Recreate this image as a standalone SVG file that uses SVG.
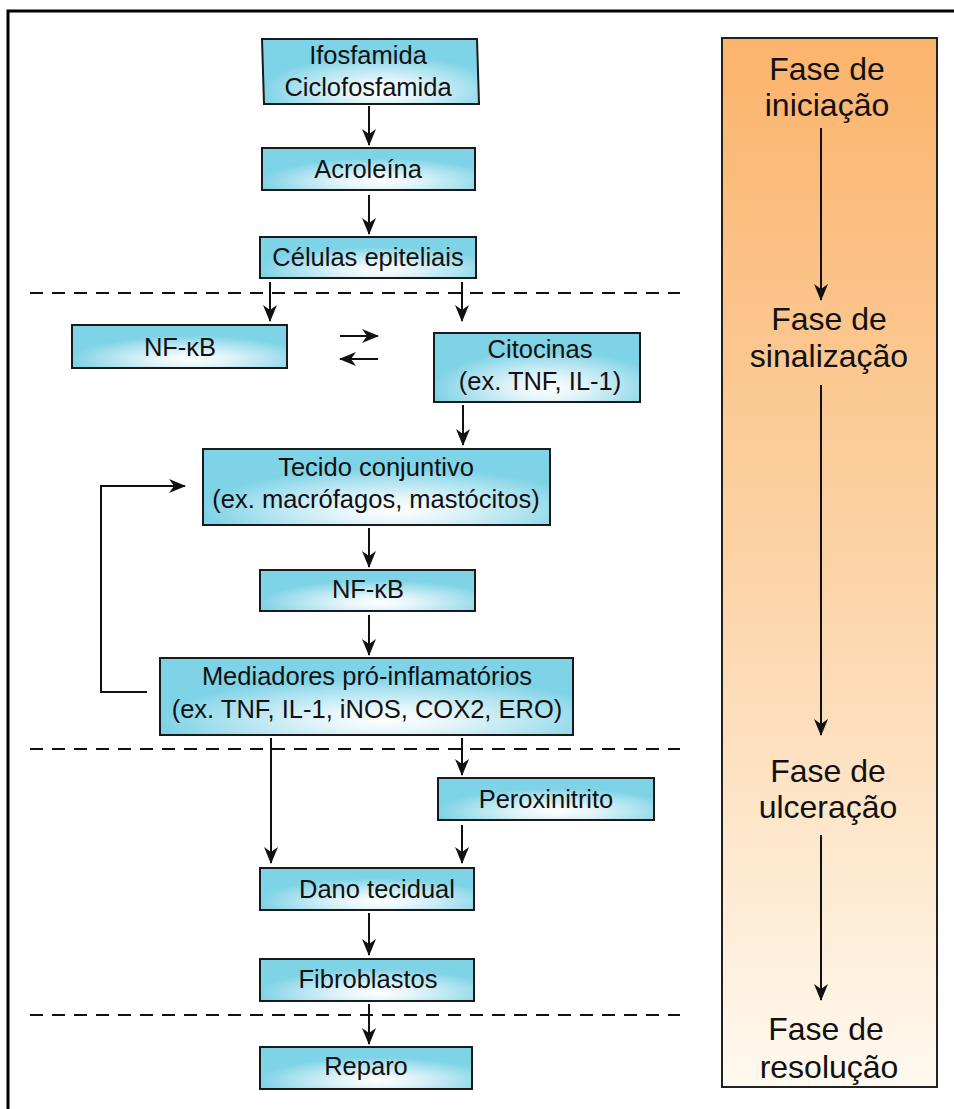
<svg xmlns="http://www.w3.org/2000/svg" width="954" height="1109" viewBox="0 0 954 1109">
<style>
.box{stroke:#1a1a1a;stroke-width:2;fill:url(#cyan)}
.t{font-family:"Liberation Sans",Arial,sans-serif;font-size:25.5px;fill:#111;text-anchor:middle}
.ph{font-family:"Liberation Sans",Arial,sans-serif;font-size:32px;fill:#111;text-anchor:middle}
.c{stroke:#111;stroke-width:2;fill:none;marker-end:url(#ah)}
.d{stroke:#111;stroke-width:2;stroke-dasharray:13 9;fill:none}
</style>
<defs>
<radialGradient id="cyan" cx="0.55" cy="0.8" r="0.55" fx="0.55" fy="0.8">
<stop offset="0" stop-color="#ffffff"/>
<stop offset="0.3" stop-color="#e4f5fa"/>
<stop offset="0.75" stop-color="#a6e0ee"/>
<stop offset="1" stop-color="#7fd3e6"/>
</radialGradient>
<linearGradient id="orange" x1="0" y1="0" x2="0" y2="1">
<stop offset="0" stop-color="#fbb46c"/>
<stop offset="0.5" stop-color="#fcd3a6"/>
<stop offset="1" stop-color="#fff9ef"/>
</linearGradient>
<marker id="ah" viewBox="0 0 17 14" refX="16" refY="7" markerWidth="17" markerHeight="14" markerUnits="userSpaceOnUse" orient="auto">
<path d="M0,0 L17,7 L0,14 L5,7 z" fill="#111"/>
</marker>
</defs>
<rect width="954" height="1109" fill="#fff"/>
<path d="M8,1109 V11 H954" stroke="#000" stroke-width="3" fill="none"/>

<g id="phases">
<rect x="722" y="38" width="215" height="1049" fill="url(#orange)" stroke="#222" stroke-width="2"/>
<text class="ph" x="827" y="80">Fase de</text>
<text class="ph" x="827" y="116">iniciação</text>
<text class="ph" x="829" y="330">Fase de</text>
<text class="ph" x="829" y="367">sinalização</text>
<text class="ph" x="828" y="782">Fase de</text>
<text class="ph" x="828" y="818">ulceração</text>
<text class="ph" x="826" y="1040">Fase de</text>
<text class="ph" x="829" y="1078">resolução</text>
</g>

<g id="dividers">
<line class="d" x1="30" y1="293" x2="680" y2="293"/>
<line class="d" x1="30" y1="749" x2="680" y2="749"/>
<line class="d" x1="30" y1="1015" x2="680" y2="1015"/>
</g>

<g id="n1"><polygon class="box" points="262,39 477,39 479,104 264,104"/>
<text class="t" x="368" y="64">Ifosfamida</text><text class="t" x="368" y="96">Ciclofosfamida</text></g>
<g id="n2"><rect class="box" x="262" y="148" width="213" height="42"/><text class="t" x="368" y="178">Acroleína</text></g>
<g id="n3"><rect class="box" x="260" y="237" width="216" height="41"/><text class="t" x="368" y="266">Células epiteliais</text></g>
<g id="n4"><rect class="box" x="72" y="325" width="215" height="43"/><text class="t" x="180" y="356">NF-κB</text></g>
<g id="n5"><rect class="box" x="434" y="333" width="206" height="69"/><text class="t" x="540" y="358">Citocinas</text><text class="t" x="540" y="390">(ex. TNF, IL-1)</text></g>
<g id="n6"><rect class="box" x="203" y="449" width="347" height="76"/><text class="t" x="376" y="476">Tecido conjuntivo</text><text class="t" x="376" y="508">(ex. macrófagos, mastócitos)</text></g>
<g id="n7"><rect class="box" x="260" y="570" width="215" height="41"/><text class="t" x="368" y="598">NF-κB</text></g>
<g id="n8"><rect class="box" x="160" y="658" width="413" height="77"/><text class="t" x="367" y="685">Mediadores pró-inflamatórios</text><text class="t" x="367" y="718">(ex. TNF, IL-1, iNOS, COX2, ERO)</text></g>
<g id="n9"><rect class="box" x="438" y="778" width="216" height="42"/><text class="t" x="546" y="808">Peroxinitrito</text></g>
<g id="n10"><rect class="box" x="260" y="868" width="214" height="42"/><text class="t" x="377" y="898">Dano tecidual</text></g>
<g id="n11"><rect class="box" x="260" y="959" width="214" height="42"/><text class="t" x="368" y="988">Fibroblastos</text></g>
<g id="n12"><rect class="box" x="260" y="1047" width="212" height="42"/><text class="t" x="366" y="1075">Reparo</text></g>

<g id="connectors">
<line class="c" x1="369" y1="106" x2="369" y2="145"/>
<line class="c" x1="369" y1="195" x2="369" y2="234"/>
<line class="c" x1="270" y1="282" x2="270" y2="321"/>
<line class="c" x1="462" y1="282" x2="462" y2="321"/>
<line class="c" x1="340" y1="336" x2="378" y2="336"/>
<line class="c" x1="378" y1="359" x2="340" y2="359"/>
<line class="c" x1="463" y1="405" x2="463" y2="445"/>
<line class="c" x1="369" y1="528" x2="369" y2="567"/>
<line class="c" x1="369" y1="615" x2="369" y2="655"/>
<polyline class="c" points="147,692 101,692 101,486 185,486"/>
<line class="c" x1="271" y1="738" x2="271" y2="863"/>
<line class="c" x1="462" y1="738" x2="462" y2="775"/>
<line class="c" x1="462" y1="825" x2="462" y2="863"/>
<line class="c" x1="369" y1="913" x2="369" y2="955"/>
<line class="c" x1="369" y1="1004" x2="369" y2="1044"/>
<line class="c" x1="821" y1="128" x2="821" y2="300"/>
<line class="c" x1="821" y1="385" x2="821" y2="735"/>
<line class="c" x1="821" y1="835" x2="821" y2="1000"/>
</g>
</svg>
